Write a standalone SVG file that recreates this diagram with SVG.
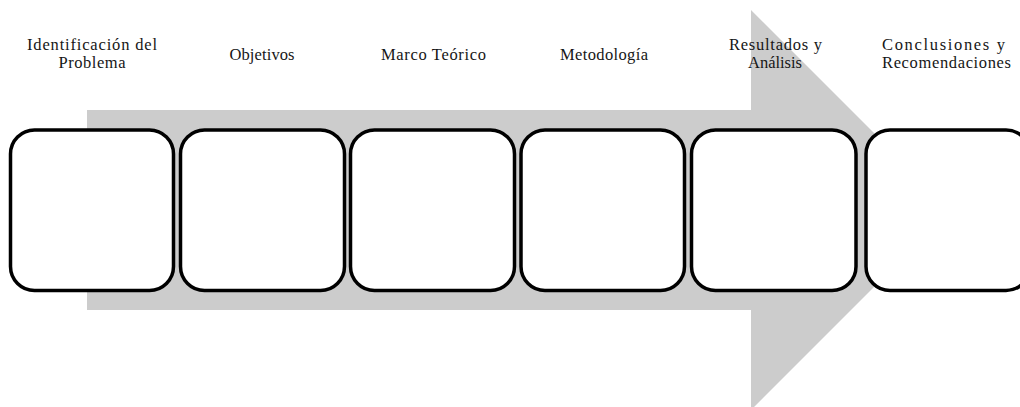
<svg xmlns="http://www.w3.org/2000/svg" width="1020" height="407" viewBox="0 0 1020 407">
<style>
.box{fill:#ffffff;stroke:#000000;stroke-width:3.5}
.lbl{font-family:"Liberation Serif","Times New Roman",serif;font-size:16.5px;fill:#161616;text-anchor:middle}
</style>
<rect x="0" y="0" width="1020" height="407" fill="#ffffff"/>
<g id="connectors">
<polygon id="big-arrow" points="87,110 751,110 751,10 951,210 751,410 751,310 87,310" fill="#cccccc"/>
</g>
<g id="node1">
<rect class="box" x="10.5" y="130" width="163" height="160.5" rx="24" ry="24"/>
<text class="lbl" x="92" y="50" textLength="130" lengthAdjust="spacing">Identificación del</text>
<text class="lbl" x="92" y="68" textLength="67" lengthAdjust="spacing">Problema</text>
</g>
<g id="node2">
<rect class="box" x="180.5" y="130" width="164" height="160.5" rx="24" ry="24"/>
<text class="lbl" x="262" y="60" textLength="65" lengthAdjust="spacing">Objetivos</text>
</g>
<g id="node3">
<rect class="box" x="350.5" y="130" width="164" height="160.5" rx="24" ry="24"/>
<text class="lbl" x="433.5" y="60" textLength="105" lengthAdjust="spacing">Marco Teórico</text>
</g>
<g id="node4">
<rect class="box" x="521" y="130" width="163.5" height="160.5" rx="24" ry="24"/>
<text class="lbl" x="604" y="60" textLength="88" lengthAdjust="spacing">Metodología</text>
</g>
<g id="node5">
<rect class="box" x="691.5" y="130" width="164.5" height="160.5" rx="24" ry="24"/>
<text class="lbl" x="775.5" y="50" textLength="93" lengthAdjust="spacing">Resultados y</text>
<text class="lbl" x="775" y="68" textLength="54" lengthAdjust="spacing">Análisis</text>
</g>
<g id="node6">
<rect class="box" x="866" y="130" width="164" height="160.5" rx="24" ry="24"/>
<text class="lbl" x="943.5" y="50" textLength="123" lengthAdjust="spacing">Conclusiones y</text>
<text class="lbl" x="946.5" y="68" textLength="129" lengthAdjust="spacing">Recomendaciones</text>
</g>
</svg>
